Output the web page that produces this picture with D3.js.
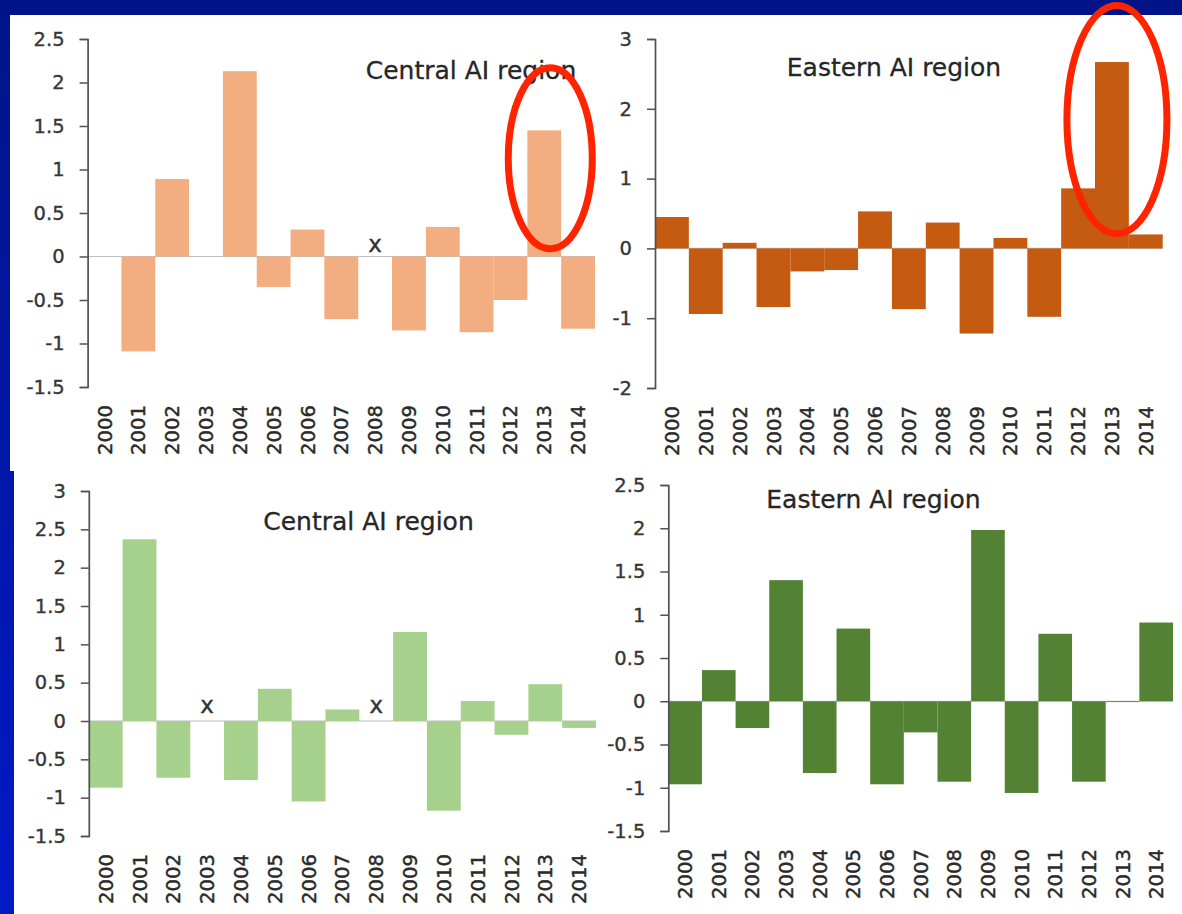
<!DOCTYPE html>
<html>
<head>
<meta charset="utf-8">
<script src="https://cdn.jsdelivr.net/npm/d3@7"></script>
<style>
  html, body { margin: 0; padding: 0; background: #0a1690; }
  svg { display: block; }
  text { font-family: "DejaVu Sans", sans-serif; }
</style>
</head>
<body>
<svg id="chart" width="1182" height="914"></svg>
<script>
// Years on the category axis
const years = ["2000","2001","2002","2003","2004","2005","2006","2007",
               "2008","2009","2010","2011","2012","2013","2014"];

// Anomaly series per region (null = no data, shown as "x")
const centralUpper = [0, -1.09, 0.89, 0, 2.13, -0.35, 0.31, -0.72, null, -0.85, 0.34, -0.87, -0.50, 1.45, -0.83];
const easternUpper = [0.45, -0.94, 0.08, -0.84, -0.33, -0.31, 0.53, -0.87, 0.37, -1.22, 0.15, -0.98, 0.86, 2.67, 0.20];
const centralLower = [-0.87, 2.37, -0.74, null, -0.77, 0.42, -1.05, 0.15, null, 1.16, -1.17, 0.26, -0.18, 0.48, -0.09];
const easternLower = [-0.96, 0.36, -0.31, 1.40, -0.83, 0.84, -0.96, -0.36, -0.93, 1.98, -1.06, 0.78, -0.93, -0.01, 0.91];

// Value-axis tick labels
const ticksCentralUpper = [-1.5, -1, -0.5, 0, 0.5, 1, 1.5, 2, 2.5];
const ticksEasternUpper = [-2, -1, 0, 1, 2, 3];
const ticksCentralLower = [-1.5, -1, -0.5, 0, 0.5, 1, 1.5, 2, 2.5, 3];
const ticksEasternLower = [-1.5, -1, -0.5, 0, 0.5, 1, 1.5, 2, 2.5];

const titles = ["Central AI region", "Eastern AI region", "Central AI region", "Eastern AI region"];

// Highlighted bars: year plus the value span the ring encloses
const highlights = [
  { panel: 0, year: "2013", lo: 0.09, hi: 2.17, shift: 6, rx: 42 },
  { panel: 1, year: "2013", lo: 0.21, hi: 3.48, shift: 5, rx: 50 }
];

const panels = [
  { values: centralUpper, ticks: ticksCentralUpper, color: "#f2ae80",
    box: { l: 87.6, r: 595, t: 39, b: 387 }, title: { x: 471, y: 79 }, lift: 5 },
  { values: easternUpper, ticks: ticksEasternUpper, color: "#c55a11",
    box: { l: 655, r: 1162.7, t: 39, b: 388 }, title: { x: 894, y: 76 }, lift: 5 },
  { values: centralLower, ticks: ticksCentralLower, color: "#a6d18c",
    box: { l: 88.8, r: 596, t: 491, b: 836 }, title: { x: 368.5, y: 530 }, lift: 8 },
  { values: easternLower, ticks: ticksEasternLower, color: "#548235",
    box: { l: 668.3, r: 1173, t: 485, b: 831 }, title: { x: 873.5, y: 508 }, lift: 6 }
];

const svg = d3.select("#chart");

// Slide background: vertical blue gradient
const defs = svg.append("defs");
const grad = defs.append("linearGradient").attr("id", "bg")
  .attr("x1", 0).attr("y1", 0).attr("x2", 0).attr("y2", 1);
grad.append("stop").attr("offset", "0%").attr("stop-color", "#001488");
grad.append("stop").attr("offset", "100%").attr("stop-color", "#001ac8");
svg.append("rect").attr("width", 1182).attr("height", 914).attr("fill", "url(#bg)");

// White picture areas holding the charts
svg.append("rect").attr("x", 10).attr("y", 15).attr("width", 1172).attr("height", 456).attr("fill", "#ffffff");
svg.append("rect").attr("x", 14).attr("y", 471).attr("width", 1168).attr("height", 443).attr("fill", "#ffffff");

const textColor = "#363636";
const scales = [];

panels.forEach((p, i) => {
  const g = svg.append("g");
  const x = d3.scaleBand().domain(years).range([p.box.l, p.box.r]).padding(0);
  const y = d3.scaleLinear().domain([d3.min(p.ticks), d3.max(p.ticks)]).range([p.box.b, p.box.t]);
  scales.push({ x, y });

  // category axis line at zero
  g.append("line")
    .attr("x1", p.box.l).attr("x2", p.box.r)
    .attr("y1", y(0)).attr("y2", y(0))
    .attr("stroke", "#bfbfbf").attr("stroke-width", 1.2);

  // bars
  const rows = years.map((yr, k) => ({ year: yr, value: p.values[k] }));
  g.selectAll("rect.bar")
    .data(rows.filter(d => d.value !== null))
    .join("rect")
    .attr("class", "bar")
    .attr("x", d => x(d.year))
    .attr("width", x.bandwidth())
    .attr("y", d => y(Math.max(0, d.value)))
    .attr("height", d => Math.abs(y(d.value) - y(0)))
    .attr("fill", p.color);

  // missing-year markers
  g.selectAll("text.miss")
    .data(rows.filter(d => d.value === null))
    .join("text")
    .attr("class", "miss")
    .attr("x", d => x(d.year) + x.bandwidth() / 2)
    .attr("y", y(0) - p.lift)
    .attr("text-anchor", "middle")
    .attr("font-size", 23)
    .attr("fill", "#333")
    .attr("stroke", "#333").attr("stroke-width", 0.4)
    .text("x");

  // value axis
  const ya = g.append("g")
    .attr("transform", `translate(${p.box.l},0)`)
    .call(d3.axisLeft(y).tickValues(p.ticks).tickSize(8).tickPadding(15)
      .tickFormat(d => String(d)));
  ya.select(".domain").attr("stroke", "#505050").attr("stroke-width", 1.7);
  ya.selectAll(".tick line").attr("stroke", "#505050").attr("stroke-width", 1.5);
  ya.selectAll(".tick text")
    .attr("font-size", 19.5)
    .attr("font-family", "DejaVu Sans, sans-serif")
    .attr("fill", textColor)
    .attr("stroke", textColor).attr("stroke-width", 0.35);

  // year labels, rotated
  const xa = g.append("g")
    .attr("transform", `translate(0,${p.box.b})`)
    .call(d3.axisBottom(x).tickSize(0));
  xa.select(".domain").remove();
  xa.selectAll(".tick text")
    .attr("font-size", 19.6)
    .attr("font-family", "DejaVu Sans, sans-serif")
    .attr("fill", "#2a2a2a")
    .attr("stroke", "#2a2a2a").attr("stroke-width", 0.45)
    .attr("text-anchor", "end")
    .attr("transform", "translate(0,18) rotate(-90)")
    .attr("x", 0).attr("y", 0)
    .attr("dy", "0.36em");

  // panel title
  g.append("text")
    .attr("x", p.title.x).attr("y", p.title.y)
    .attr("text-anchor", "middle")
    .attr("font-size", 25)
    .attr("fill", "#262626")
    .attr("stroke", "#262626").attr("stroke-width", 0.3)
    .text(titles[i]);
});

// red rings around the highlighted bars
highlights.forEach(h => {
  const { x, y } = scales[h.panel];
  svg.append("ellipse")
    .attr("cx", x(h.year) + x.bandwidth() / 2 + h.shift)
    .attr("cy", (y(h.lo) + y(h.hi)) / 2)
    .attr("rx", h.rx)
    .attr("ry", Math.abs(y(h.lo) - y(h.hi)) / 2)
    .attr("fill", "none")
    .attr("stroke", "#ff2400")
    .attr("stroke-width", 7);
});
</script>
</body>
</html>
